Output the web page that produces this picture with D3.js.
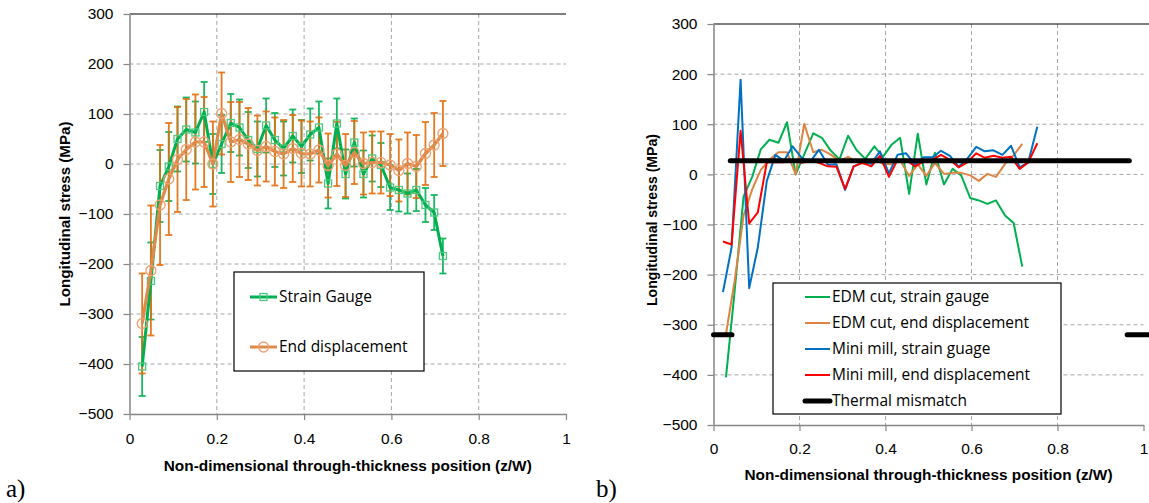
<!DOCTYPE html>
<html lang="en">
<head>
  <meta charset="UTF-8">
  <title>Longitudinal stress profiles</title>
  <script src="https://d3js.org/d3.v7.min.js"></script>
  <style>
    body { margin: 0; background: #fff; }
    svg { display: block; font-family: "Open Sans", sans-serif; }
    .tick text { font-size: 15.5px; fill: #000; }
    .domain { stroke: #868686; stroke-width: 1.5; }
    .tick line { stroke: #868686; stroke-width: 1.2; }
    .grid { stroke: #a6a6a6; stroke-width: 1; stroke-dasharray: 4,3; }
    .title { font-family: "Liberation Sans Narrow", "Liberation Sans", sans-serif; font-weight: bold; font-size: 15px; fill: #000; }
    .legend text { font-size: 15.5px; fill: #000; }
    .panel { font-family: "Liberation Serif", "Times New Roman", serif; font-size: 25px; fill: #000; }
  </style>
</head>
<body>
<svg width="1149" height="503"></svg>
<script>
// ---- data ----
const xTicks = [0, 0.2, 0.4, 0.6, 0.8, 1];
const yTicks = [-500, -400, -300, -200, -100, 0, 100, 200, 300];

// EDM cut positions (z/W)
const edmX = [0.029, 0.049, 0.070, 0.090, 0.110, 0.130, 0.151, 0.171, 0.191, 0.211,
  0.232, 0.252, 0.272, 0.293, 0.313, 0.333, 0.353, 0.374, 0.394, 0.414,
  0.434, 0.455, 0.475, 0.495, 0.515, 0.536, 0.556, 0.576, 0.597, 0.617,
  0.637, 0.657, 0.678, 0.698, 0.718];
const strainGauge = [-405, -234, -44, -5, 50, 69, 63, 104, 0, 40,
  82, 73, 48, 30, 77, 48, 31, 56, 35, 59,
  73, -39, 81, -20, 43, -20, 11, -2, -47, -52,
  -59, -52, -82, -97, -184];
const strainGaugeErr = [59, 77, 72, 69, 65, 64, 62, 60, 60, 58,
  58, 56, 56, 55, 54, 54, 54, 53, 53, 52,
  52, 50, 50, 49, 48, 47, 46, 44, 45, 43,
  40, 42, 34, 35, 35];
const endDisp = [-319, -213, -82, -30, 9, 29, 44, 44, 0, 101,
  44, 49, 40, 27, 35, 25, 20, 31, 21, 20,
  28, -3, 20, -3, 23, 1, 3, 3, -2, -13,
  1, -5, 21, 38, 61];
const endDispErr = [100, 130, 120, 112, 105, 101, 95, 90, 85, 82,
  80, 75, 72, 70, 70, 68, 68, 67, 66, 65,
  65, 64, 64, 63, 63, 62, 62, 62, 62, 62,
  62, 63, 63, 64, 65];

// Mini mill positions (z/W)
const millX = [0.022, 0.042, 0.063, 0.083, 0.103, 0.124, 0.144, 0.164, 0.184, 0.205,
  0.225, 0.245, 0.266, 0.286, 0.306, 0.326, 0.347, 0.367, 0.387, 0.408,
  0.428, 0.448, 0.469, 0.489, 0.509, 0.529, 0.550, 0.570, 0.590, 0.611,
  0.631, 0.651, 0.672, 0.692, 0.712, 0.732, 0.753];
const millGauge = [-235, -146, 189, -227, -146, -13, 39, 27, 56, 33,
  25, 49, 19, 20, -31, 16, 24, 21, 46, 2,
  39, 42, 19, 34, 34, 47, 37, 15, 31, 55,
  46, 48, 39, 57, 14, 24, 95];
const millDisp = [-134, -140, 87, -98, -76, 24, 24, 24, 29, 23,
  27, 23, 16, 15, -29, 16, 23, 16, 37, -5,
  29, 29, 16, 26, 29, 39, 29, 14, 24, 42,
  33, 37, 33, 35, 11, 24, 62];

// thermal mismatch: three flat pieces [x start, x end], value
const thermalX = [[0, 0.043], [0.039, 0.967], [0.962, 1.02]];
const thermalY = [-320, 27, -320];

const xTitle = "Non-dimensional through-thickness position (z/W)";
const yTitle = "Longitudinal stress (MPa)";

const svg = d3.select("svg");

function frame(opt) {
  const x = d3.scaleLinear().domain([0, 1]).range([opt.left, opt.right]);
  const y = d3.scaleLinear().domain([-500, 300]).range([opt.bottom, opt.top]);
  const g = svg.append("g");

  // grid
  g.selectAll(".hg").data(yTicks.filter(d => d > -500 && d < 300)).enter()
    .append("line").attr("class", "grid")
    .attr("x1", opt.left).attr("x2", opt.right)
    .attr("y1", d => y(d)).attr("y2", d => y(d));
  g.selectAll(".vg").data(xTicks.filter(d => d > 0 && d < 1)).enter()
    .append("line").attr("class", "grid")
    .attr("y1", opt.top).attr("y2", opt.bottom)
    .attr("x1", d => x(d)).attr("x2", d => x(d));
  g.append("line")
    .attr("x1", opt.left).attr("x2", opt.topEnd)
    .attr("y1", y(300)).attr("y2", y(300))
    .attr("stroke", "#000").attr("stroke-width", 1.2);

  g.append("g")
    .attr("transform", `translate(${opt.left},0)`)
    .call(d3.axisLeft(y).tickValues(yTicks).tickSize(6).tickPadding(10).tickSizeOuter(0));
  g.append("g")
    .attr("transform", `translate(0,${opt.bottom})`)
    .call(d3.axisBottom(x).tickValues(xTicks).tickSize(6).tickPadding(opt.xPad)
      .tickSizeOuter(0).tickFormat(d3.format("")));

  g.append("text").attr("class", "title")
    .attr("transform", `translate(${opt.yTitleX},${opt.yTitleY}) rotate(-90)`)
    .attr("text-anchor", "middle").attr("dy", "0.35em")
    .attr("textLength", opt.yTitleLen).attr("lengthAdjust", "spacingAndGlyphs")
    .text(yTitle);
  g.append("text").attr("class", "title")
    .attr("x", (opt.left + opt.right) / 2).attr("y", opt.xTitleY)
    .attr("text-anchor", "middle").attr("dy", "0.35em")
    .attr("textLength", 368).attr("lengthAdjust", "spacingAndGlyphs")
    .text(xTitle);
  return { g, x, y };
}

// ---------- a) ----------
const A = frame({ left: 129.5, right: 566, top: 14, bottom: 414, topEnd: 566,
  xPad: 13, yTitleX: 65, yTitleY: 214, yTitleLen: 185, xTitleY: 466 });

const sgPts = edmX.map((d, i) => ({ x: d, v: strainGauge[i], e: strainGaugeErr[i] }));
const edPts = edmX.map((d, i) => ({ x: d, v: endDisp[i], e: endDispErr[i] }));

function errorBars(g, pts, sx, sy, color) {
  const eb = g.append("g").attr("stroke", color).attr("stroke-width", 1.8).attr("opacity", 0.9);
  pts.forEach(p => {
    const cx = sx(p.x);
    eb.append("line").attr("x1", cx).attr("x2", cx).attr("y1", sy(p.v + p.e)).attr("y2", sy(p.v - p.e));
    [p.v + p.e, p.v - p.e].forEach(v => {
      eb.append("line").attr("x1", cx - 3.5).attr("x2", cx + 3.5).attr("y1", sy(v)).attr("y2", sy(v));
    });
  });
}

errorBars(A.g, sgPts, A.x, A.y, "#00b050");
errorBars(A.g, edPts, A.x, A.y, "#e46c0a");

const lineA = d3.line().x(d => A.x(d.x)).y(d => A.y(d.v));
A.g.append("path").datum(sgPts).attr("d", lineA)
  .attr("fill", "none").attr("stroke", "#00b050").attr("stroke-width", 3).attr("stroke-linejoin", "round");
A.g.selectAll(".sq").data(sgPts).enter().append("rect")
  .attr("x", d => A.x(d.x) - 3.5).attr("y", d => A.y(d.v) - 3.5)
  .attr("width", 7).attr("height", 7)
  .attr("fill", "none").attr("stroke", "#4cc97e").attr("stroke-width", 1.3);

A.g.append("path").datum(edPts).attr("d", lineA)
  .attr("fill", "none").attr("stroke", "#dd8a4a").attr("stroke-width", 3.2).attr("stroke-linejoin", "round");
A.g.selectAll(".ci").data(edPts).enter().append("circle")
  .attr("cx", d => A.x(d.x)).attr("cy", d => A.y(d.v)).attr("r", 5)
  .attr("fill", "none").attr("stroke", "#eea070").attr("stroke-width", 1.3);

// legend a
const legA = A.g.append("g").attr("class", "legend");
legA.append("rect").attr("x", 234).attr("y", 272).attr("width", 190).attr("height", 99)
  .attr("fill", "#fff").attr("stroke", "#000").attr("stroke-width", 1.2);
[{ name: "Strain Gauge", c: "#00b050", m: "sq", yy: 297 },
 { name: "End displacement", c: "#dd8a4a", m: "ci", yy: 347 }].forEach(s => {
  legA.append("line").attr("x1", 250).attr("x2", 277).attr("y1", s.yy).attr("y2", s.yy)
    .attr("stroke", s.c).attr("stroke-width", 3);
  if (s.m === "sq") {
    legA.append("rect").attr("x", 260).attr("y", s.yy - 3.5).attr("width", 7).attr("height", 7)
      .attr("fill", "none").attr("stroke", "#4cc97e").attr("stroke-width", 1.3);
  } else {
    legA.append("circle").attr("cx", 263.5).attr("cy", s.yy).attr("r", 5)
      .attr("fill", "none").attr("stroke", "#eea070").attr("stroke-width", 1.3);
  }
  legA.append("text").attr("x", 279).attr("y", s.yy).attr("dy", "0.35em").text(s.name);
});

// ---------- b) ----------
const B = frame({ left: 713.5, right: 1143.5, top: 24, bottom: 425, topEnd: 1149,
  xPad: 12, yTitleX: 652, yTitleY: 220, yTitleLen: 172, xTitleY: 475 });

const lineB = d3.line().x(d => B.x(d[0])).y(d => B.y(d[1]));
const seriesB = [
  { name: "EDM cut, strain gauge", c: "#00b050", xs: edmX, vs: strainGauge },
  { name: "EDM cut, end displacement", c: "#dd8443", xs: edmX, vs: endDisp },
  { name: "Mini mill, strain guage", c: "#0070c0", xs: millX, vs: millGauge },
  { name: "Mini mill, end displacement", c: "#ff0000", xs: millX, vs: millDisp }
];
seriesB.forEach(s => {
  B.g.append("path").datum(s.xs.map((d, i) => [d, s.vs[i]])).attr("d", lineB)
    .attr("fill", "none").attr("stroke", s.c).attr("stroke-width", 2).attr("stroke-linejoin", "round");
});
thermalX.forEach((r, i) => {
  B.g.append("path").datum([[r[0], thermalY[i]], [r[1], thermalY[i]]]).attr("d", lineB)
    .attr("fill", "none").attr("stroke", "#000").attr("stroke-width", 5).attr("stroke-linecap", "round");
});

// legend b
const legB = B.g.append("g").attr("class", "legend");
legB.append("rect").attr("x", 773).attr("y", 283).attr("width", 288).attr("height", 131)
  .attr("fill", "#fff").attr("stroke", "#000").attr("stroke-width", 1.2);
seriesB.concat([{ name: "Thermal mismatch", c: "#000", thick: true }]).forEach((s, i) => {
  const yy = 297 + i * 26;
  legB.append("line").attr("x1", 805).attr("x2", 830).attr("y1", yy).attr("y2", yy)
    .attr("stroke", s.c).attr("stroke-width", s.thick ? 5 : 2).attr("stroke-linecap", s.thick ? "round" : "butt");
  legB.append("text").attr("x", 832).attr("y", yy).attr("dy", "0.35em").text(s.name);
});

// panel labels
svg.append("text").attr("class", "panel").attr("x", 6).attr("y", 497).text("a)");
svg.append("text").attr("class", "panel").attr("x", 596).attr("y", 497).text("b)");
</script>
</body>
</html>
